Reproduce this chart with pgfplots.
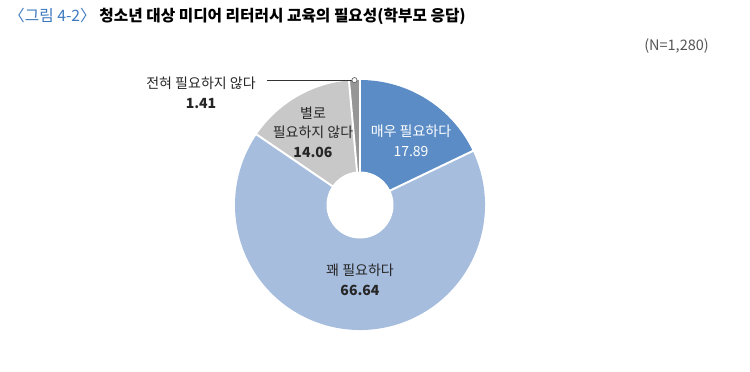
\documentclass[border=0pt]{standalone}
\usepackage{pgfplots}
\usepackage{pgfplotstable}
\pgfplotsset{compat=1.18}
\usetikzlibrary{calc}
\usepackage{fontspec}
\setmainfont{Noto Sans CJK KR}
\definecolor{cA}{RGB}{91,140,198}
\definecolor{cB}{RGB}{166,189,222}
\definecolor{cC}{RGB}{200,200,200}
\definecolor{cD}{RGB}{150,150,150}
\definecolor{titleblue}{RGB}{60,120,190}
\definecolor{ngray}{RGB}{85,85,85}

\pgfplotstableread{
id value
1 17.89
2 66.64
3 14.06
4 1.41
}\datatable
\pgfplotstablegetelem{0}{value}\of\datatable \let\vA\pgfplotsretval
\pgfplotstablegetelem{1}{value}\of\datatable \let\vB\pgfplotsretval
\pgfplotstablegetelem{2}{value}\of\datatable \let\vC\pgfplotsretval
\pgfplotstablegetelem{3}{value}\of\datatable \let\vD\pgfplotsretval
\pgfmathsetmacro\aA{90}
\pgfmathsetmacro\aB{\aA-3.6*\vA}
\pgfmathsetmacro\aC{\aB-3.6*\vB}
\pgfmathsetmacro\aD{\aC-3.6*\vC}
\pgfmathsetmacro\aE{\aD-3.6*\vD}
\pgfmathsetmacro\aM{(\aD+\aE)/2}

\begin{document}
\begin{tikzpicture}
\begin{axis}[hide axis, x=1bp, y=1bp, xmin=0, xmax=750, ymin=0, ymax=371,
  scale only axis, clip=false]
\path (axis cs:0,0) rectangle (axis cs:750,371);
% wedges
\fill[cA] (axis cs:360,166) -- ++(\aA:125bp) arc[start angle=\aA, end angle=\aB, radius=125bp] -- cycle;
\fill[cB] (axis cs:360,166) -- ++(\aB:125bp) arc[start angle=\aB, end angle=\aC, radius=125bp] -- cycle;
\fill[cC] (axis cs:360,166) -- ++(\aC:125bp) arc[start angle=\aC, end angle=\aD, radius=125bp] -- cycle;
\fill[cD] (axis cs:360,166) -- ++(\aD:125bp) arc[start angle=\aD, end angle=\aE, radius=125bp] -- cycle;
% separators
\draw[white, line width=2bp] (axis cs:360,166) -- ++(\aA:126bp);
\draw[white, line width=2bp] (axis cs:360,166) -- ++(\aB:126bp);
\draw[white, line width=2bp] (axis cs:360,166) -- ++(\aC:126bp);
\draw[white, line width=2bp] (axis cs:360,166) -- ++(\aD:126bp);
\fill[white] (axis cs:360,166) circle[radius=33.5bp];
% leader
\draw[black!80, line width=0.8bp] ($(axis cs:360,166)+(\aM:125bp)$) -- ++(-87bp,0);
\filldraw[fill=white, draw=black!60, line width=0.7bp] ($(axis cs:360,166)+(\aM:125bp)$) circle[radius=2.6bp];
% labels
\node[white, align=center, font=\fontsize{14bp}{19.5bp}\selectfont] at (axis cs:411,230) {매우 필요하다\\\vA};
\node[black!85, align=center, font=\fontsize{14bp}{19.5bp}\selectfont] at (axis cs:360,91) {꽤 필요하다\\\textbf{\vB}};
\node[black!85, align=center, font=\fontsize{14bp}{19.5bp}\selectfont] at (axis cs:313,239) {별로\\필요하지 않다\\\textbf{\vC}};
\node[black!85, align=center, font=\fontsize{14bp}{19.5bp}\selectfont] at (axis cs:201,278) {전혀 필요하지 않다\\\textbf{\vD}};
% title
\node[anchor=west, font=\fontsize{15.7bp}{18bp}\selectfont, inner sep=0pt] at (axis cs:9,355) {{\color{titleblue}〈그림 4-2〉} \textbf{청소년 대상 미디어 리터러시 교육의 필요성(학부모 응답)}};
\node[anchor=east, ngray, font=\fontsize{14.5bp}{16bp}\selectfont, inner sep=0pt] at (axis cs:709,325) {(N=1,280)};
\end{axis}
\end{tikzpicture}
\end{document}
